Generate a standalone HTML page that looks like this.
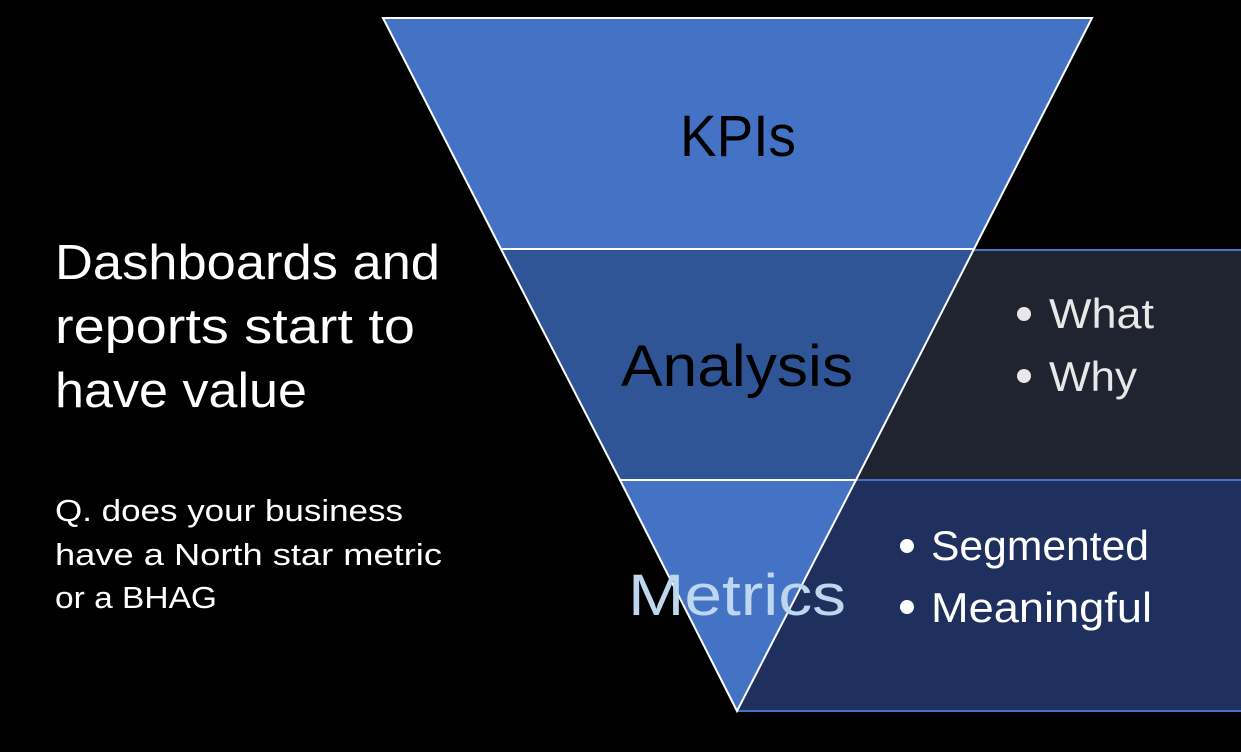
<!DOCTYPE html>
<html><head><meta charset="utf-8"><style>
html,body{margin:0;padding:0;background:#000;width:1241px;height:752px;overflow:hidden}
svg{display:block}
text{font-family:"Liberation Sans","DejaVu Sans",sans-serif}
</style></head><body>
<svg width="1241" height="752" viewBox="0 0 1241 752" xmlns="http://www.w3.org/2000/svg">
<rect width="1241" height="752" fill="#000"/>
<polygon points="974,249 1241,249 1241,480 856,480" fill="#1F2430"/>
<polygon points="856,480 1241,480 1241,711 737,711" fill="#1F305E"/>
<line x1="974" y1="250" x2="1241" y2="250" stroke="#4472C4" stroke-width="2"/>
<line x1="856" y1="480" x2="1241" y2="480" stroke="#4472C4" stroke-width="2"/>
<line x1="737" y1="711" x2="1241" y2="711" stroke="#4472C4" stroke-width="2"/>
<polygon points="383,18 1092,18 974,249 501,249" fill="#4472C4" stroke="#fff" stroke-width="2"/>
<polygon points="501,249 974,249 856,480 620,480" fill="#2F5597" stroke="#fff" stroke-width="2"/>
<polygon points="620,480 856,480 737,711" fill="#4472C4" stroke="#fff" stroke-width="2"/>
<text x="680" y="156" font-size="58" textLength="116" lengthAdjust="spacingAndGlyphs" fill="#000">KPIs</text>
<text x="621" y="386" font-size="58" textLength="232" lengthAdjust="spacingAndGlyphs" fill="#000">Analysis</text>
<text x="628" y="615" font-size="58" textLength="218" lengthAdjust="spacingAndGlyphs" fill="#BDD7EE">Metrics</text>
<g fill="#E8E8E8" font-size="42">
<circle cx="1024" cy="314" r="7"/><text x="1049" y="328" textLength="105" lengthAdjust="spacingAndGlyphs">What</text>
<circle cx="1024" cy="376" r="7"/><text x="1049" y="391" textLength="88" lengthAdjust="spacingAndGlyphs">Why</text>
</g>
<g fill="#fff" font-size="42">
<circle cx="907" cy="546" r="7"/><text x="931" y="560" textLength="218" lengthAdjust="spacingAndGlyphs">Segmented</text>
<circle cx="907" cy="607" r="7"/><text x="931" y="622" textLength="221" lengthAdjust="spacingAndGlyphs">Meaningful</text>
</g>
<g fill="#fff" font-size="49">
<text x="55" y="279" textLength="385" lengthAdjust="spacingAndGlyphs">Dashboards and</text>
<text x="55" y="343" textLength="360" lengthAdjust="spacingAndGlyphs">reports start to</text>
<text x="55" y="407" textLength="252" lengthAdjust="spacingAndGlyphs">have value</text>
</g>
<g fill="#fff" font-size="31">
<text x="55" y="521" textLength="348" lengthAdjust="spacingAndGlyphs">Q. does your business</text>
<text x="55" y="565" textLength="387" lengthAdjust="spacingAndGlyphs">have a North star metric</text>
<text x="55" y="608" textLength="162" lengthAdjust="spacingAndGlyphs">or a BHAG</text>
</g>
</svg>
</body></html>
